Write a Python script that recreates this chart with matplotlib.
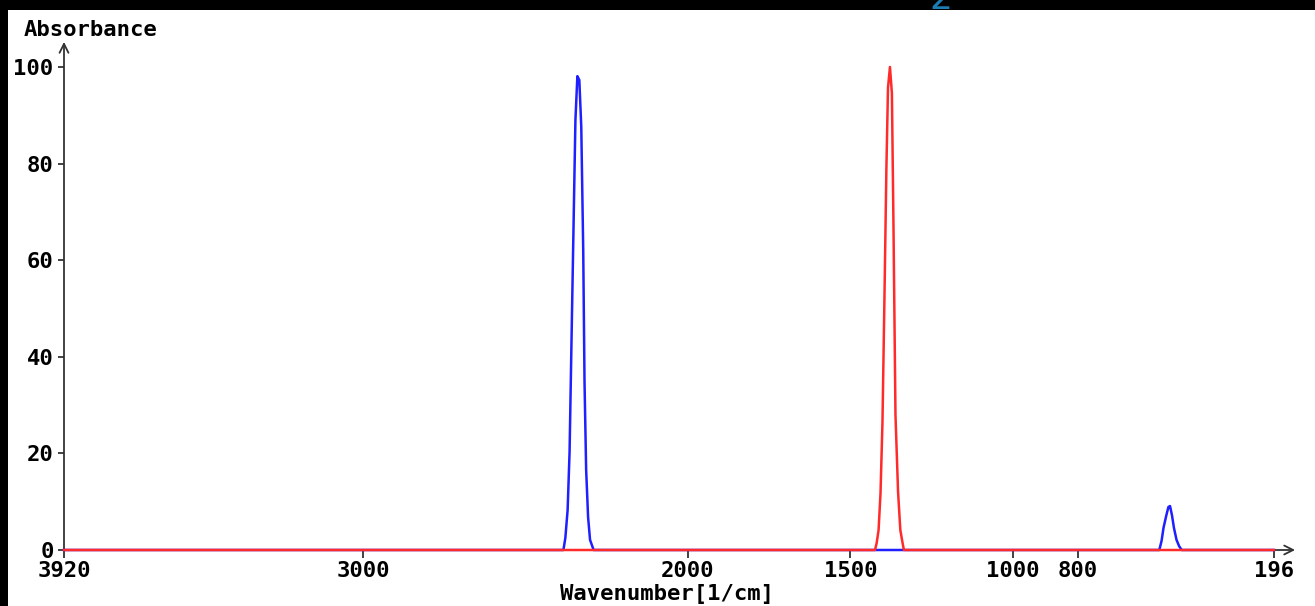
import matplotlib
matplotlib.use("Agg")
import matplotlib.pyplot as plt
from matplotlib.patches import Rectangle

# spectrum (wavenumber in 1/cm, absorbance)
blue_wn = [3920, 2383, 2377, 2370, 2364, 2358, 2352, 2346, 2340, 2334, 2328,
           2322, 2318, 2313, 2307, 2301, 2290,
           549, 542, 536, 528, 521, 516, 510, 504, 496, 488, 480, 196]
blue_abs = [0, 0, 2.5, 8.3, 20.3, 43.5, 66.3, 89.0, 98.1, 97.3, 87.6,
            62.1, 34.8, 16.6, 6.8, 2.1, 0,
            0, 1.9, 4.6, 7.0, 8.9, 9.1, 7.2, 4.6, 2.1, 0.8, 0, 0]

red_wn = [3920, 1424, 1419, 1413, 1407, 1401, 1395, 1389, 1384, 1378,
          1372, 1367, 1361, 1353, 1346, 1339, 1335, 196]
red_abs = [0, 0, 1.4, 4.1, 11.8, 26.5, 51.8, 78.7, 95.7, 100,
           94.6, 66.3, 28.0, 12.0, 4.1, 1.4, 0, 0]

xticks = [3920, 3000, 2000, 1500, 1000, 800, 196]
yticks = [0, 20, 40, 60, 80, 100]

W, H = 1315, 606
font = dict(family="DejaVu Sans Mono", weight="bold", size=16, color="black")
axcol = "#333333"

fig = plt.figure(figsize=(W / 100, H / 100), dpi=100, facecolor="black")
fig.patches.append(Rectangle((8 / W, 0), 1 - 8 / W, (H - 10) / H,
                             transform=fig.transFigure, facecolor="white",
                             edgecolor="none", zorder=0))
# bottom of a title that is cut off above the panel
fig.text(941 / W, 1 - 9 / H, "2", fontsize=26, color="#1c7db3",
         ha="center", va="baseline", zorder=1)

ax = fig.add_axes([64 / W, (H - 550) / H, 1210 / W, 483 / H])
ax.set_zorder(2)
ax.set_facecolor("none")
for s in ax.spines.values():
    s.set_visible(False)

ax.plot(blue_wn, blue_abs, color="#1f1fff", lw=1.8, zorder=3, clip_on=False)
ax.plot(red_wn, red_abs, color="#ff2a2a", lw=1.8, zorder=4, clip_on=False)

ax.set_xlim(3920, 196)
ax.set_ylim(0, 100)

ax.set_xticks(xticks)
ax.set_xticklabels([str(t) for t in xticks], fontdict=font)
ax.set_yticks(yticks)
ax.set_yticklabels([str(t) for t in yticks], fontdict=font)
ax.tick_params(axis="x", direction="out", length=6, width=1.3, color=axcol, pad=2)
ax.tick_params(axis="y", direction="out", length=4.5, width=1.3, color=axcol, pad=3)

arrow = dict(arrowstyle="->", color=axcol, lw=1.3, shrinkA=0, shrinkB=0,
             mutation_scale=16)
ax.annotate("", xy=(3920, 105.2), xytext=(3920, 0), arrowprops=arrow,
            annotation_clip=False, zorder=2)
ax.annotate("", xy=(131, 0), xytext=(3920, 0), arrowprops=arrow,
            annotation_clip=False, zorder=2)

fig.text(24 / W, 1 - 30 / H, "Absorbance", ha="left", va="center", **font)
fig.text(667 / W, 1 - 594 / H, "Wavenumber[1/cm]", ha="center", va="center", **font)

fig.savefig("out.png", dpi=100, facecolor="black")
